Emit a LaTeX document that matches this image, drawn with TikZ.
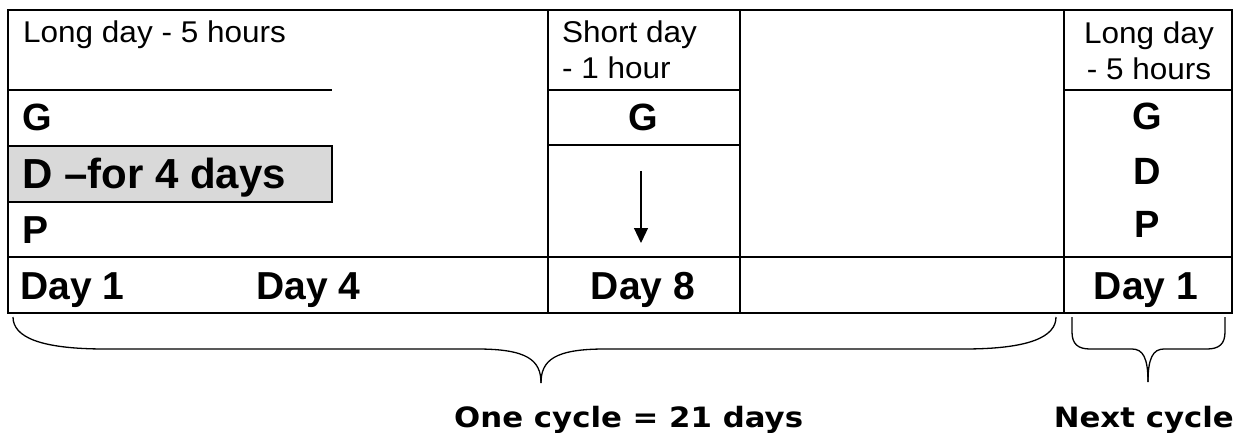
\documentclass[tikz,border=0pt]{standalone}
\usepackage{fontspec}
\setmainfont{Liberation Sans}
\newfontfamily\verd[FakeStretch=1.1]{DejaVu Sans}
\newfontfamily\arialw[FakeStretch=1.05]{Liberation Sans}
\usetikzlibrary{arrows.meta}
\definecolor{boxgray}{HTML}{D9D9D9}
\begin{document}
\begin{tikzpicture}[x=1pt,y=-1pt,
  grid/.style={line width=2.8pt},
  reg/.style={inner sep=0pt,font=\arialw\fontsize{30}{36}\selectfont},
  big/.style={inner sep=0pt,font=\fontsize{39}{46}\selectfont\bfseries},
  foot/.style={inner sep=0pt,font=\verd\fontsize{28}{34}\selectfont\bfseries},
  brace/.style={line width=1.3pt},
  arrowline/.style={line width=1.2pt,-{Triangle[length=15pt,width=14pt]}}]
\useasboundingbox (0,0) rectangle (1243,433);
\fill[white] (0,0) rectangle (1243,433);
% grey box
\draw[grid,fill=boxgray] (8,146) rectangle (332,202);
% table
\draw[grid] (8,10) rectangle (1232,313);
\draw[grid] (548,10) -- (548,313);
\draw[grid] (740,10) -- (740,313);
\draw[grid] (1064,10) -- (1064,313);
\draw[grid] (8,257) -- (1232,257);
\draw[grid] (8,90) -- (332,90);
\draw[grid] (548,90) -- (740,90);
\draw[grid] (548,145) -- (740,145);
\draw[grid] (1064,90) -- (1232,90);
% left column
\node[reg,anchor=base west] (ld1) at (23,43) {Long day - 5 hours};
\node[big,anchor=base west,font=\fontsize{38}{44}\selectfont\bfseries] (g1) at (22,131) {G};
\node[big,anchor=base west,font=\fontsize{42}{46}\selectfont\bfseries] (d1) at (22,189) {D –for 4 days};
\node[big,anchor=base west,font=\fontsize{39}{44}\selectfont\bfseries] (p1) at (22,243) {P};
\node[big,anchor=base west] (day1) at (20,299) {Day 1};
\node[big,anchor=base west] (day4) at (256,299) {Day 4};
% short day column
\node[reg,anchor=base west] (sd1) at (562,43) {Short day};
\node[reg,anchor=base west] (sd2) at (562,79) {- 1 hour};
\node[big,anchor=base,font=\fontsize{38}{44}\selectfont\bfseries] (g2) at (643,131) {G};
\coordinate (a1) at (641,171);
\coordinate (a2) at (641,243);
\draw[arrowline] (a1) -- (a2);
\node[big,anchor=base] (day8) at (643,299) {Day 8};
% right column
\node[reg,anchor=base] (ld3) at (1149,44) {Long day};
\node[reg,anchor=base] (ld4) at (1149,80) {- 5 hours};
\node[big,anchor=base,font=\fontsize{38}{44}\selectfont\bfseries] (g3) at (1147,130) {G};
\node[big,anchor=base,font=\fontsize{38}{44}\selectfont\bfseries] (d3) at (1147,185) {D};
\node[big,anchor=base,font=\fontsize{38}{44}\selectfont\bfseries] (p3) at (1147,237) {P};
\node[big,anchor=base] (day1b) at (1146,299) {Day 1};
% braces
\coordinate (bl) at (13,317);
\coordinate (br) at (1056,317);
\coordinate (bt) at (541,383);
\draw[brace] (bl) .. controls (13,337) and (40,349) .. (105,349) -- (477,349)
  .. controls (527,349) and (541,360) .. (bt);
\draw[brace] (br) .. controls (1056,337) and (1029,349) .. (964,349) -- (605,349)
  .. controls (555,349) and (541,360) .. (bt);
\coordinate (sl) at (1072,317);
\coordinate (sr) at (1225,317);
\coordinate (st) at (1148,382);
\draw[brace] (sl) -- (1072,332) .. controls (1072,344) and (1078,349) .. (1090,349) -- (1132,349)
  .. controls (1143,349) and (1148,358) .. (st);
\draw[brace] (sr) -- (1225,332) .. controls (1225,344) and (1219,349) .. (1207,349) -- (1164,349)
  .. controls (1153,349) and (1148,358) .. (st);
% footer labels
\node[foot,anchor=base west] (one) at (454,427) {One cycle = 21 days};
\node[foot,anchor=base east] (next) at (1234,427) {Next cycle};
\end{tikzpicture}
\end{document}
